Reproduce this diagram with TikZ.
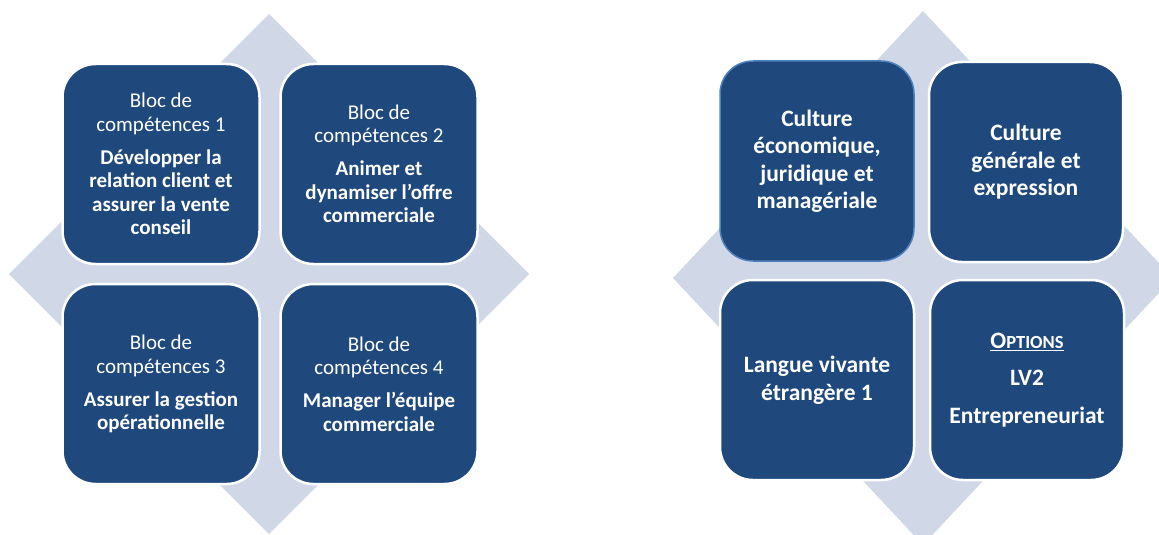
\documentclass[tikz,border=0pt]{standalone}
\usepackage{fontspec}
\setmainfont{Carlito}
\definecolor{blocbleu}{RGB}{31,73,125}
\definecolor{fondbleu}{RGB}{208,216,232}
\definecolor{bordbleu}{RGB}{79,129,189}

\begin{document}
\begin{tikzpicture}
  [x=1pt,y=-1pt,
   bloc/.style={rectangle,rounded corners=33pt,draw=white,line width=2.5pt,
                fill=blocbleu,text=white,align=center,inner sep=0pt,
                minimum width=197pt,minimum height=200pt,
                font=\fontsize{21}{23.5}\selectfont},
   matiere/.style={bloc,minimum width=194pt,
                   font=\bfseries\fontsize{23.5}{27.5}\selectfont},
   losange/.style={fill=fondbleu}]
  \useasboundingbox (0,0) rectangle (1159,535);
  \clip (0,0) rectangle (1159,535);
  \fill[losange] (269,14) -- (529,274) -- (269,534) -- (9,274) -- cycle;
  \fill[losange] (923,11) -- (1173,278) -- (923,545) -- (673,278) -- cycle;
  \node (b1) at (161,164) [bloc] {Bloc de\\compétences 1\\[9.5pt]\textbf{Développer la}\\\textbf{relation client et}\\\textbf{assurer la vente}\\\textbf{conseil}};
  \node (b2) at (379,164) [bloc] {Bloc de\\compétences 2\\[9.5pt]\textbf{Animer et}\\\textbf{dynamiser l’offre}\\\textbf{commerciale}};
  \node (b3) at (161,384) [bloc] {Bloc de\\compétences 3\\[9.5pt]\textbf{Assurer la gestion}\\\textbf{opérationnelle}};
  \node (b4) at (379,384) [bloc] {Bloc de\\compétences 4\\[9.5pt]\textbf{Manager l’équipe}\\\textbf{commerciale}};
  \node (m1) at (817,161) [matiere,draw=bordbleu,line width=1.5pt] {Culture\\économique,\\juridique et\\managériale};
  \node (m2) at (1026,162) [matiere] {Culture\\générale et\\expression};
  \node (m3) at (817,380) [matiere] {Langue vivante\\étrangère 1};
  \node (m4) at (1027,380) [matiere] {\underline{O{\fontsize{18.5}{20}\selectfont PTIONS}}\\[10pt]LV2\\[10pt]Entrepreneuriat};
\end{tikzpicture}
\end{document}
